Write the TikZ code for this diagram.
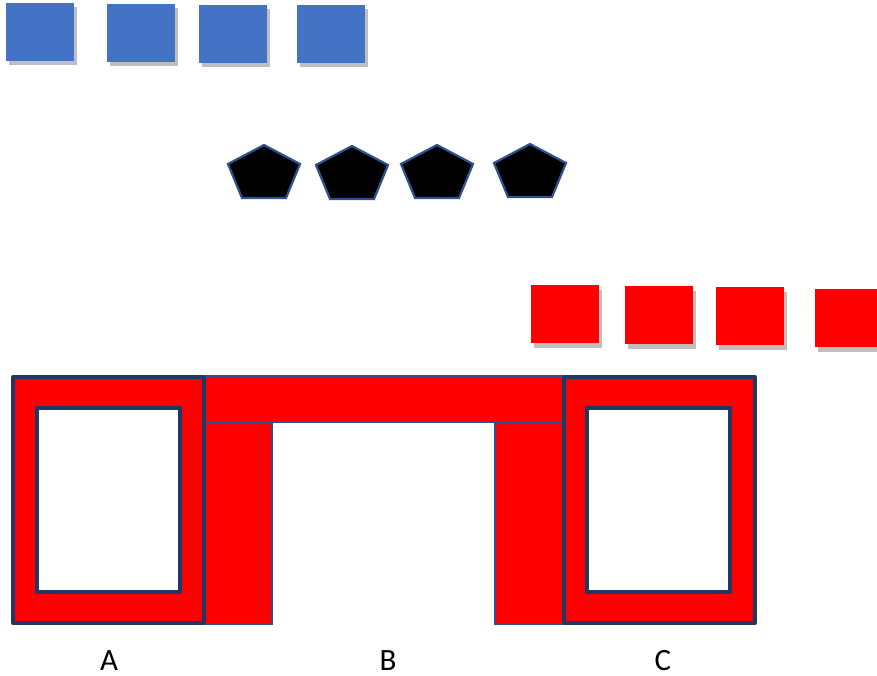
\documentclass[tikz,border=0pt]{standalone}
\usepackage{fontspec}
\setmainfont{Carlito}
\definecolor{bluesq}{HTML}{4472C4}
\definecolor{redsq}{HTML}{FF0000}
\definecolor{shadowg}{HTML}{BFBFBF}
\definecolor{navy}{HTML}{203864}
\definecolor{thinb}{HTML}{2F528F}
\tikzset{
  sq/.style={fill=#1},
  shadowsq/.style={fill=shadowg},
  penta/.style={fill=black, draw=thinb, line width=2.2pt, line join=miter},
  bpart/.style={fill=redsq, draw=thinb, line width=2pt},
  outerbox/.style={fill=redsq, draw=navy, line width=4.8pt, line join=round},
  innerbox/.style={fill=white, draw=navy, line width=4.8pt, line join=round},
  lbl/.style={font=\fontsize{31}{34}\selectfont, inner sep=0pt, anchor=base}
}
\newcommand{\shsquare}[3]{%
  \fill[shadowsq] ({#1+3},{#2+4.5}) rectangle ++(68,58);
  \fill[sq=#3] (#1,#2) rectangle ++(68,58);}
\newcommand{\pent}[2]{%
  \draw[penta] ({#1+36},#2) -- ({#1+72},{#2+19}) -- ({#1+58},{#2+53}) -- ({#1+14},{#2+53}) -- (#1,{#2+19}) -- cycle;}
\begin{document}
\begin{tikzpicture}[x=1pt,y=-1pt]
\useasboundingbox (0,0) rectangle (877,676);
% blue squares
\shsquare{6}{3}{bluesq}
\shsquare{107}{4}{bluesq}
\shsquare{199}{5}{bluesq}
\shsquare{297}{5}{bluesq}
% pentagons
\pent{228}{145}
\pent{316}{146}
\pent{401}{145}
\pent{494}{144}
% red squares
\shsquare{531}{285}{redsq}
\shsquare{625}{286}{redsq}
\shsquare{716}{287}{redsq}
\shsquare{815}{289}{redsq}
% B
\draw[bpart] (204,376) rectangle (563,422);
\draw[bpart] (204,422) rectangle (272,624);
\draw[bpart] (495,422) rectangle (563,624);
% A
\draw[outerbox] (13,377) rectangle (204,623);
\draw[innerbox] (37,408) rectangle (180,592);
% C
\draw[outerbox] (564,377) rectangle (755,623);
\draw[innerbox] (587,408) rectangle (730,592);
% labels
\node[lbl] (la) at (109,670) {A};
\node[lbl] (lb) at (388,670) {B};
\node[lbl] (lc) at (663,670) {C};
\end{tikzpicture}
\end{document}
